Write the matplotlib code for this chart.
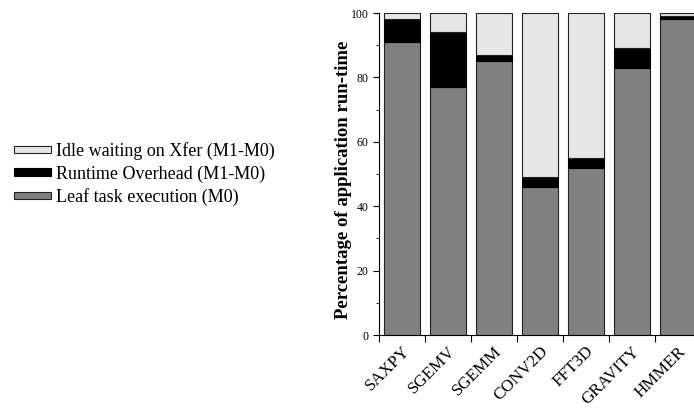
import matplotlib
matplotlib.use("Agg")
import matplotlib.pyplot as plt
import numpy as np

categories = ["SAXPY", "SGEMV", "SGEMM", "CONV2D", "FFT3D", "GRAVITY", "HMMER"]
leaf = [91, 77, 85, 46, 52, 83, 98]
overhead = [7, 17, 2, 3, 3, 6, 1]
idle = [2, 6, 13, 51, 45, 11, 1]

plt.rcParams['font.family'] = ['Liberation Serif', 'DejaVu Serif']

fig = plt.figure(figsize=(6.94, 4.12), dpi=100)
ax = fig.add_axes([379/694, 77/412, 322/694, 322/412])

x = np.arange(len(categories))
leaf_a = np.array(leaf)
over_a = np.array(overhead)
idle_a = np.array(idle)
w = 0.8
b1 = ax.bar(x, leaf_a, w, color='#808080', edgecolor='#222222', linewidth=0.8,
            label='Leaf task execution (M0)')
b2 = ax.bar(x, over_a, w, bottom=leaf_a, color='#000000', edgecolor='#000000', linewidth=0.8,
            label='Runtime Overhead (M1-M0)')
b3 = ax.bar(x, idle_a, w, bottom=leaf_a + over_a, color='#e6e6e6', edgecolor='#222222', linewidth=0.8,
            label='Idle waiting on Xfer (M1-M0)')

ax.set_xlim(-0.5, len(categories) - 0.5)
ax.set_ylim(0, 100)
ax.spines['top'].set_visible(False)
ax.spines['right'].set_visible(False)

ax.set_xticks(x - 0.5)
ax.set_xticklabels([])
ax.set_xticks(x, minor=True)
ax.set_xticklabels(categories, minor=True, rotation=45, ha='right', rotation_mode='anchor',
                   fontsize=12.3)
ax.tick_params(axis='x', which='minor', length=0, pad=6)
ax.tick_params(axis='x', which='major', length=5, direction='out')

ax.set_yticks([0, 20, 40, 60, 80, 100])
ax.set_yticks([10, 30, 50, 70, 90], minor=True)
ax.tick_params(axis='y', which='major', labelsize=8.5, length=4)
ax.tick_params(axis='y', which='minor', length=2)
ax.set_ylabel('Percentage of application run-time', fontsize=13.5, fontweight='bold')
ax.yaxis.set_label_coords(-0.084, 0.483)

handles = [b3, b2, b1]
labels = [h.get_label() for h in handles]
fig.legend(handles, labels, loc='center left', bbox_to_anchor=(0.0, 0.578),
           frameon=False, fontsize=13, handlelength=2.05, handleheight=0.25,
           handletextpad=0.25, labelspacing=0.3, borderpad=0.3)

fig.savefig('out.png', dpi=100)
